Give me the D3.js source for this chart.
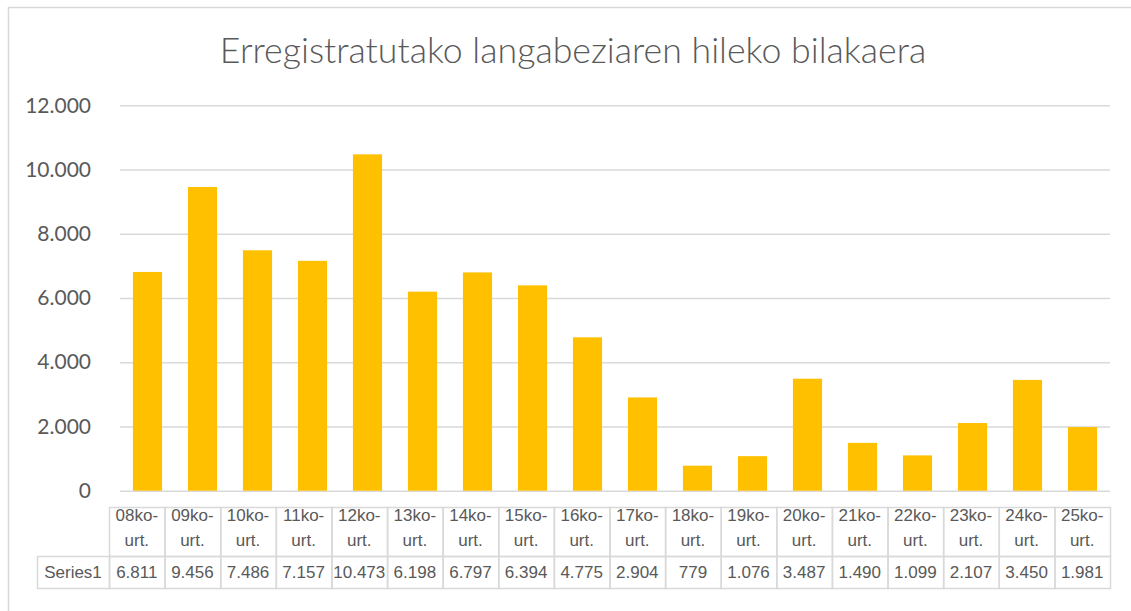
<html>
<head>
<script src="https://d3js.org/d3.v7.min.js"></script>
<style>
  body { margin: 0; background: #fff; }
</style>
</head>
<body>
<svg id="chart" width="1131" height="611"></svg>
<script>
const months = ["08ko-urt.", "09ko-urt.", "10ko-urt.", "11ko-urt.", "12ko-urt.", "13ko-urt.",
                "14ko-urt.", "15ko-urt.", "16ko-urt.", "17ko-urt.", "18ko-urt.", "19ko-urt.",
                "20ko-urt.", "21ko-urt.", "22ko-urt.", "23ko-urt.", "24ko-urt.", "25ko-urt."];
const series1 = [6811, 9456, 7486, 7157, 10473, 6198, 6797, 6394, 4775, 2904, 779, 1076,
                 3487, 1490, 1099, 2107, 3450, 1981];
const yTicks = [0, 2000, 4000, 6000, 8000, 10000, 12000];
const seriesName = "Series1";
const title = "Erregistratutako langabeziaren hileko bilakaera";

const data = months.map((m, i) => ({ month: m, value: series1[i] }));

const eu = d3.formatLocale({ decimal: ",", thousands: ".", grouping: [3], currency: ["", " €"] });
const fmt = eu.format(",.0f");

const svg = d3.select("svg#chart");
const grey = "#595959";
const lineCol = "#d9d9d9";

// outer chart border (cut off at right and bottom like the picture)
svg.append("path")
  .attr("d", "M8.5,611 L8.5,7.5 L1131,7.5")
  .attr("fill", "none")
  .attr("stroke", lineCol)
  .attr("stroke-width", 1.5);

svg.append("text")
  .attr("x", 573)
  .attr("y", 63)
  .attr("text-anchor", "middle")
  .attr("fill", grey)
  .style("font-family", "Lato, 'Open Sans', sans-serif")
  .style("font-weight", 300)
  .style("font-size", "35.7px")
  .text(title);

const plot = { left: 120, right: 1110, top: 105.3, bottom: 490.7 };

const x = d3.scaleBand()
  .domain(months)
  .range([plot.left, plot.right])
  .paddingInner(0.47)
  .paddingOuter(0.235);

const y = d3.scaleLinear()
  .domain([0, 12000])
  .range([plot.bottom, plot.top]);

const yAxis = svg.append("g")
  .attr("transform", `translate(${plot.left},0)`)
  .call(d3.axisLeft(y).tickValues(yTicks).tickFormat(fmt)
        .tickSize(-(plot.right - plot.left)).tickPadding(29));
yAxis.select(".domain").remove();
yAxis.selectAll(".tick line").attr("stroke", lineCol).attr("stroke-width", 1.5);
yAxis.selectAll(".tick text")
  .attr("fill", grey)
  .style("font-family", "Lato, 'Open Sans', sans-serif")
  .style("font-size", "21px");

svg.append("g").selectAll("rect").data(data)
  .join("rect")
  .attr("x", d => x(d.month))
  .attr("y", d => y(d.value))
  .attr("width", x.bandwidth())
  .attr("height", d => y(0) - y(d.value))
  .attr("fill", "#FFC000");

// data table
const col = d3.scaleBand().domain(months).range([109, 1110]);
const rows = { top: 507, mid: 556, bottom: 588 };
const labelLeft = 37;
const tbl = svg.append("g")
  .style("font-family", "'Liberation Sans', Arial, sans-serif")
  .style("font-size", "17px")
  .attr("fill", grey);

const cells = tbl.selectAll("g.cell").data(data).join("g").attr("class", "cell");
cells.append("rect")
  .attr("x", d => col(d.month) + 0.5)
  .attr("y", rows.top + 0.5)
  .attr("width", col.bandwidth())
  .attr("height", rows.mid - rows.top)
  .attr("fill", "none").attr("stroke", lineCol).attr("stroke-width", 1.5);
cells.append("rect")
  .attr("x", d => col(d.month) + 0.5)
  .attr("y", rows.mid + 0.5)
  .attr("width", col.bandwidth())
  .attr("height", rows.bottom - rows.mid)
  .attr("fill", "none").attr("stroke", lineCol).attr("stroke-width", 1.5);
cells.append("text")
  .attr("x", d => col(d.month) + col.bandwidth() / 2)
  .attr("y", 521)
  .attr("text-anchor", "middle")
  .text(d => d.month.split("-")[0] + "-");
cells.append("text")
  .attr("x", d => col(d.month) + col.bandwidth() / 2)
  .attr("y", 546)
  .attr("text-anchor", "middle")
  .text(d => d.month.split("-")[1]);
cells.append("text")
  .attr("x", d => col(d.month) + col.bandwidth() / 2)
  .attr("y", 578)
  .attr("text-anchor", "middle")
  .text(d => fmt(d.value));

tbl.append("rect")
  .attr("x", labelLeft + 0.5)
  .attr("y", rows.mid + 0.5)
  .attr("width", 109 - labelLeft)
  .attr("height", rows.bottom - rows.mid)
  .attr("fill", "none").attr("stroke", lineCol).attr("stroke-width", 1.5);
tbl.append("text")
  .attr("x", (labelLeft + 109) / 2)
  .attr("y", 578)
  .attr("text-anchor", "middle")
  .text(seriesName);
</script>
</body>
</html>
